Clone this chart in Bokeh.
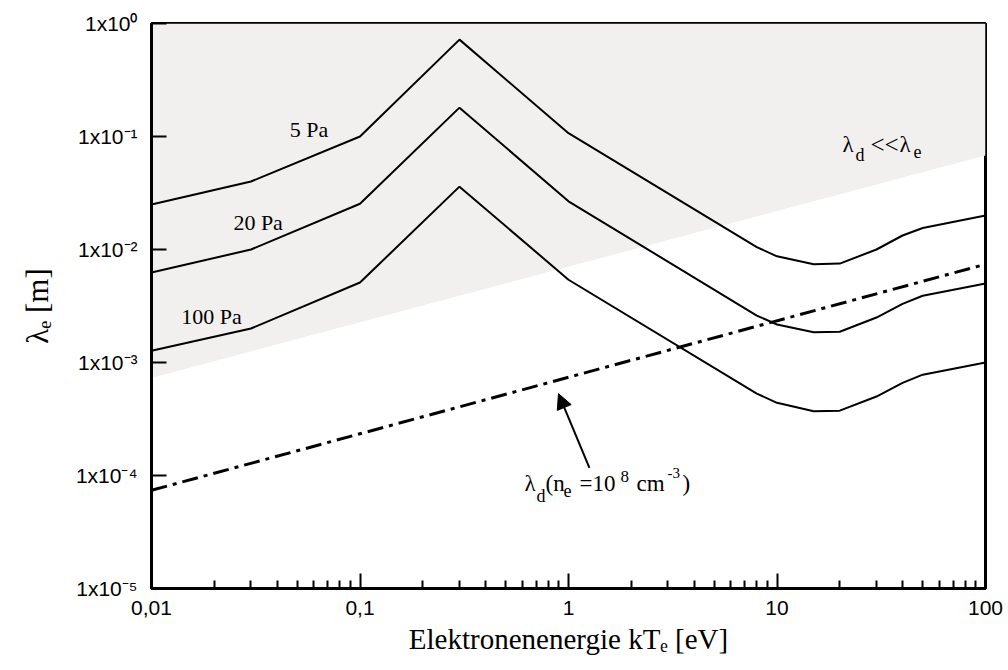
from bokeh.plotting import figure
from bokeh.models import FixedTicker, CustomJSTickFormatter, Label, Arrow, NormalHead
from bokeh.embed import file_html
from bokeh.resources import INLINE

# ---------------- data ----------------
energy = [0.01, 0.03, 0.1, 0.3, 1, 8, 10, 15, 20, 30, 40, 50, 100]
lam_5pa = [0.025, 0.040, 0.100, 0.72, 0.107, 0.0105, 0.0087, 0.0074, 0.0075, 0.0100, 0.0133, 0.0155, 0.020]
lam_20pa = [0.00625, 0.0100, 0.0254, 0.18, 0.0267, 0.0026, 0.00217, 0.00185, 0.00187, 0.0025, 0.0033, 0.0039, 0.0050]
lam_100pa = [0.00127, 0.0020, 0.0051, 0.036, 0.0054, 0.00053, 0.00044, 0.00037, 0.000375, 0.0005, 0.00066, 0.00078, 0.0010]

debye_x = [0.01, 100]
debye_y = [7.4e-5, 7.4e-3]

region_x = [0.01, 100, 100, 0.01]
region_y = [7.3e-4, 6.8e-2, 1.0, 1.0]

x_ticks = [0.01, 0.1, 1, 10, 100]
x_tick_labels = ["0,01", "0,1", "1", "10", "100"]
x_minor = [m * d for d in [0.01, 0.1, 1, 10] for m in range(2, 10)]

y_ticks = [1e-5, 1e-4, 1e-3, 1e-2, 1e-1, 1]
y_tick_labels = ["1x10\u207b\u2075", "1x10\u207b\u2074", "1x10\u207b\u00b3",
                 "1x10\u207b\u00b2", "1x10\u207b\u00b9", "1x10\u2070"]

x_title = "Elektronenenergie kT\u2091 [eV]"
y_title = "\u03bb\u2091 [m]"

SERIF = "Liberation Serif"
SANS = "Liberation Sans"

p = figure(frame_width=834, frame_height=565,
           x_axis_type="log", y_axis_type="log",
           x_range=(0.01, 100), y_range=(1e-5, 1),
           output_backend="svg", toolbar_location=None,
           min_border_left=151, min_border_right=20,
           min_border_top=23, min_border_bottom=70)

p.grid.visible = False
p.background_fill_color = "white"
p.border_fill_color = "white"
p.outline_line_color = "black"
p.outline_line_width = 3
p.outline_line_alpha = 1.0

fmt_code = """
const lt = Math.log10(tick);
for (let i = 0; i < vals.length; i++) {
  if (Math.abs(lt - Math.log10(vals[i])) < 1e-6) { return labs[i]; }
}
return "";
"""

xa = p.xaxis[0]
xa.ticker = FixedTicker(ticks=x_ticks, minor_ticks=x_minor)
xa.formatter = CustomJSTickFormatter(args=dict(vals=x_ticks, labs=x_tick_labels), code=fmt_code)
ya = p.yaxis[0]
ya.ticker = FixedTicker(ticks=y_ticks, minor_ticks=[])
ya.formatter = CustomJSTickFormatter(args=dict(vals=y_ticks, labs=y_tick_labels), code=fmt_code)

for ax in (xa, ya):
    ax.axis_line_width = 3
    ax.axis_line_color = "black"
    ax.major_tick_in = 15
    ax.major_tick_out = 0
    ax.major_tick_line_width = 2
    ax.major_tick_line_color = "black"
    ax.minor_tick_in = 8
    ax.minor_tick_out = 0
    ax.minor_tick_line_width = 2
    ax.minor_tick_line_color = "black"
    ax.major_label_text_font = SANS
    ax.major_label_text_font_size = "21px"
    ax.major_label_text_color = "black"
    ax.axis_label_text_font = SERIF
    ax.axis_label_text_font_style = "normal"
    ax.axis_label_text_color = "black"

xa.axis_label_text_font_size = "29px"
ya.axis_label_text_font_size = "31px"
ya.minor_tick_line_color = None
xa.axis_label = x_title
ya.axis_label = y_title
xa.major_label_standoff = 12
ya.major_label_standoff = 14
xa.axis_label_standoff = 5
ya.axis_label_standoff = 18

# shaded region
p.patch(region_x, region_y, fill_color="#f1f0ee", line_color=None)

# curves
for ys in (lam_5pa, lam_20pa, lam_100pa):
    p.line(energy, ys, line_color="black", line_width=2)

# Debye length line
p.line(debye_x, debye_y, line_color="black", line_width=3, line_dash="16 6 4 6")


def add_text(x, y, pieces):
    for txt, dx, dy, size in pieces:
        p.add_layout(Label(x=x, y=y, x_units="data", y_units="data", text=txt,
                           x_offset=dx, y_offset=dy, text_font=SERIF,
                           text_font_size=f"{size}px", text_color="black",
                           text_align="left", text_baseline="alphabetic"))


add_text(0.046, 0.115, [("5 Pa", 0, 0, 22)])
add_text(0.0247, 0.0173, [("20 Pa", 0, 0, 22)])
add_text(0.0139, 0.00254, [("100 Pa", 0, 0, 22)])

add_text(20.6, 0.0846, [("\u03bb", 0, 0, 23), ("d", 13, -10, 18),
                        ("<<", 28, 0, 25), ("\u03bb", 57, 0, 23),
                        ("e", 71, -7, 18)])

add_text(0.615, 8.48e-5, [("\u03bb", 0, 0, 23), ("d", 12, -12, 18),
                          ("(n", 21, 0, 23), ("e", 39, -7, 18),
                          ("=10", 55, 0, 23), ("8", 96, 7, 17),
                          ("cm", 112, 0, 23), ("-3", 143, 11, 15),
                          (")", 158, 0, 23)])

p.add_layout(Arrow(end=NormalHead(size=15, fill_color="black", line_color="black"),
                   x_start=1.26, y_start=1.17e-4, x_end=0.895, y_end=5.3e-4,
                   line_color="black", line_width=2))

open("out.html", "w").write(file_html(p, INLINE))
